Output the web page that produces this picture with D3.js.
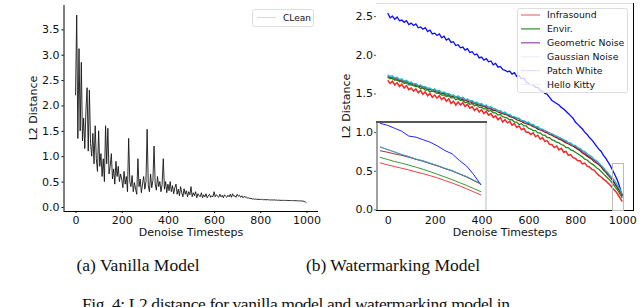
<!DOCTYPE html>
<html>
<head>
<meta charset="utf-8">
<script src="https://cdn.jsdelivr.net/npm/d3@7"></script>
<style>
  body { margin: 0; background: #fff; }
  text { font-family: "DejaVu Sans", sans-serif; fill: #111; }
  .cap { font-family: "Liberation Serif", "Times New Roman", serif; }
</style>
</head>
<body>
<div id="chart"></div>
<script>
// timesteps are just the sample positions read along the x axis
const cleanSteps = d3.range(0, 1001, 5)
const wmSteps = d3.range(0, 1001, 10)
const insetSteps = d3.range(958, 1001, 3)

const xTicks = [0, 200, 400, 600, 800, 1000]
const leftYTicks = [0, 0.5, 1, 1.5, 2, 2.5, 3, 3.5]
const rightYTicks = [0, 0.5, 1, 1.5, 2, 2.5]

// vanilla model, "CLean" series (read every 5 steps)
const cleanVals = [
  2.2, 3.78, 1.35, 3.12, 1.5, 2.85, 1.3, 1.75, 1.15, 1.9, 2.35, 1.1, 2.3, 1.25, 1.0, 1.45, 0.85, 1.6, 0.95, 0.7,
  1.5, 0.8, 1.05, 0.6, 0.95, 0.5, 1.6, 0.85, 1.55, 0.65, 0.8, 1.05, 0.55, 0.75, 0.45, 0.9, 0.6, 0.8, 0.5, 0.65,
  0.55, 0.38, 0.7, 0.45, 0.6, 0.3, 1.35, 0.5, 0.4, 0.62, 0.3, 0.48, 0.35, 0.25, 0.95, 0.4, 0.55, 0.28, 0.45, 0.6,
  0.35, 0.5, 1.53, 0.42, 0.3, 0.65, 0.38, 0.52, 1.2, 0.45, 0.33, 0.6, 0.4, 0.5, 0.3, 0.45, 0.95, 0.35, 0.5, 0.28,
  0.45, 0.32, 0.5, 0.3, 0.42, 0.26, 0.38, 0.45, 0.25, 0.35, 0.22, 0.4, 0.28, 0.2, 0.36, 0.25, 0.32, 0.2, 0.3, 0.24,
  0.4, 0.2, 0.28, 0.22, 0.3, 0.18, 0.26, 0.22, 0.2, 0.28, 0.18, 0.24, 0.2, 0.26, 0.18, 0.22, 0.25, 0.19, 0.22, 0.2,
  0.3, 0.2, 0.24, 0.21, 0.19, 0.25, 0.2, 0.23, 0.18, 0.24, 0.21, 0.19, 0.23, 0.2, 0.25, 0.19, 0.26, 0.21, 0.22, 0.19,
  0.25, 0.21, 0.23, 0.19, 0.22, 0.18, 0.21, 0.19, 0.2, 0.17, 0.18, 0.165, 0.17, 0.155, 0.16, 0.15, 0.155, 0.15, 0.152, 0.145,
  0.15, 0.145, 0.15, 0.14, 0.145, 0.14, 0.145, 0.14, 0.14, 0.135, 0.14, 0.135, 0.14, 0.135, 0.135, 0.13, 0.135, 0.13, 0.13, 0.13,
  0.13, 0.128, 0.13, 0.127, 0.128, 0.125, 0.126, 0.125, 0.125, 0.123, 0.124, 0.122, 0.122, 0.12, 0.12, 0.118, 0.118, 0.115, 0.11, 0.1,
  0.08
]

// watermarking model series (read every 10 steps)
const infrasound = [
  1.67, 1.63, 1.66, 1.61, 1.64, 1.59, 1.62, 1.57, 1.60, 1.55, 1.57,
  1.53, 1.56, 1.51, 1.54, 1.49, 1.52, 1.47, 1.50, 1.45, 1.48,
  1.44, 1.47, 1.42, 1.45, 1.40, 1.43, 1.37, 1.40, 1.35, 1.39,
  1.35, 1.38, 1.33, 1.36, 1.31, 1.33, 1.28, 1.31, 1.26, 1.29,
  1.24, 1.27, 1.22, 1.24, 1.19, 1.21, 1.16, 1.19, 1.13, 1.16,
  1.12, 1.14, 1.09, 1.11, 1.06, 1.08, 1.03, 1.05, 1.00, 1.00,
  0.97, 0.99, 0.94, 0.96, 0.91, 0.93, 0.88, 0.89, 0.84, 0.84,
  0.80, 0.82, 0.77, 0.79, 0.74, 0.75, 0.70, 0.71, 0.67, 0.66,
  0.63, 0.63, 0.59, 0.60, 0.56, 0.55, 0.52, 0.51, 0.47, 0.44,
  0.42, 0.39, 0.37, 0.34, 0.31, 0.27, 0.24, 0.20, 0.15, 0.10
]
const envir = [
  1.71, 1.69, 1.70, 1.67, 1.68, 1.65, 1.66, 1.63, 1.64, 1.61, 1.61,
  1.60, 1.59, 1.59, 1.56, 1.57, 1.54, 1.55, 1.52, 1.53, 1.52,
  1.50, 1.50, 1.48, 1.48, 1.46, 1.47, 1.44, 1.45, 1.42, 1.43,
  1.41, 1.41, 1.38, 1.39, 1.36, 1.37, 1.34, 1.35, 1.32, 1.32,
  1.30, 1.30, 1.27, 1.28, 1.25, 1.25, 1.22, 1.23, 1.20, 1.19,
  1.18, 1.16, 1.16, 1.13, 1.13, 1.10, 1.11, 1.08, 1.08, 1.05,
  1.04, 1.02, 1.02, 0.99, 0.99, 0.96, 0.96, 0.93, 0.93, 0.90,
  0.89, 0.87, 0.86, 0.84, 0.83, 0.80, 0.80, 0.77, 0.76, 0.74,
  0.72, 0.70, 0.68, 0.65, 0.64, 0.61, 0.59, 0.57, 0.54, 0.52,
  0.49, 0.46, 0.43, 0.40, 0.37, 0.33, 0.29, 0.25, 0.20, 0.15
]
const geometric = [
  1.73, 1.71, 1.71, 1.70, 1.69, 1.68, 1.67, 1.66, 1.66, 1.64, 1.64,
  1.62, 1.62, 1.60, 1.60, 1.59, 1.58, 1.57, 1.56, 1.55, 1.55,
  1.53, 1.53, 1.51, 1.51, 1.50, 1.49, 1.48, 1.47, 1.46, 1.46,
  1.44, 1.44, 1.42, 1.42, 1.40, 1.40, 1.38, 1.38, 1.36, 1.36,
  1.34, 1.33, 1.32, 1.31, 1.30, 1.29, 1.28, 1.27, 1.25, 1.25,
  1.23, 1.22, 1.20, 1.19, 1.18, 1.17, 1.15, 1.14, 1.13, 1.11,
  1.10, 1.09, 1.07, 1.06, 1.04, 1.03, 1.02, 1.00, 0.99, 0.97,
  0.96, 0.94, 0.93, 0.91, 0.89, 0.88, 0.86, 0.85, 0.83, 0.81,
  0.79, 0.77, 0.75, 0.73, 0.70, 0.68, 0.66, 0.64, 0.61, 0.59,
  0.56, 0.52, 0.49, 0.46, 0.42, 0.38, 0.33, 0.29, 0.24, 0.19
]
const gaussian = [
  1.74, 1.72, 1.73, 1.70, 1.71, 1.68, 1.69, 1.66, 1.67, 1.64, 1.65,
  1.62, 1.63, 1.60, 1.61, 1.58, 1.59, 1.56, 1.57, 1.54, 1.56,
  1.53, 1.54, 1.51, 1.52, 1.49, 1.50, 1.47, 1.48, 1.45, 1.47,
  1.44, 1.45, 1.42, 1.43, 1.40, 1.41, 1.38, 1.39, 1.36, 1.37,
  1.34, 1.35, 1.32, 1.33, 1.30, 1.30, 1.27, 1.28, 1.25, 1.26,
  1.23, 1.23, 1.20, 1.20, 1.18, 1.18, 1.15, 1.15, 1.12, 1.13,
  1.10, 1.10, 1.07, 1.07, 1.04, 1.04, 1.01, 1.01, 0.98, 0.98,
  0.96, 0.95, 0.93, 0.92, 0.90, 0.89, 0.86, 0.86, 0.83, 0.83,
  0.80, 0.79, 0.76, 0.75, 0.72, 0.70, 0.68, 0.65, 0.63, 0.60,
  0.57, 0.54, 0.50, 0.47, 0.43, 0.40, 0.36, 0.31, 0.26, 0.20
]
const patchWhite = [
  2.54, 2.48, 2.50, 2.46, 2.49, 2.44, 2.45, 2.42, 2.44, 2.39, 2.41,
  2.38, 2.40, 2.35, 2.36, 2.33, 2.35, 2.30, 2.32, 2.27, 2.28,
  2.25, 2.27, 2.22, 2.24, 2.19, 2.21, 2.16, 2.17, 2.12, 2.13,
  2.09, 2.10, 2.06, 2.08, 2.03, 2.04, 2.00, 2.01, 1.96, 1.97,
  1.93, 1.95, 1.91, 1.92, 1.87, 1.89, 1.84, 1.85, 1.81, 1.80,
  1.78, 1.79, 1.75, 1.77, 1.72, 1.73, 1.69, 1.70, 1.65, 1.63,
  1.61, 1.61, 1.58, 1.58, 1.54, 1.53, 1.50, 1.49, 1.45, 1.41,
  1.39, 1.37, 1.35, 1.32, 1.30, 1.27, 1.24, 1.21, 1.18, 1.13,
  1.10, 1.07, 1.04, 1.00, 0.97, 0.93, 0.90, 0.86, 0.82, 0.78,
  0.75, 0.70, 0.66, 0.61, 0.56, 0.50, 0.44, 0.37, 0.28, 0.17
]
const helloKitty = [
  1.71, 1.70, 1.69, 1.69, 1.67, 1.67, 1.65, 1.65, 1.64, 1.63, 1.62,
  1.61, 1.60, 1.59, 1.59, 1.57, 1.57, 1.55, 1.55, 1.54, 1.53,
  1.52, 1.51, 1.50, 1.50, 1.48, 1.48, 1.46, 1.46, 1.45, 1.44,
  1.43, 1.42, 1.41, 1.40, 1.39, 1.38, 1.37, 1.36, 1.35, 1.34,
  1.33, 1.32, 1.30, 1.30, 1.28, 1.28, 1.26, 1.25, 1.24, 1.23,
  1.22, 1.20, 1.19, 1.18, 1.16, 1.15, 1.14, 1.12, 1.11, 1.10,
  1.09, 1.07, 1.06, 1.04, 1.03, 1.02, 1.00, 0.99, 0.97, 0.96,
  0.94, 0.93, 0.91, 0.90, 0.88, 0.86, 0.85, 0.83, 0.82, 0.80,
  0.78, 0.76, 0.73, 0.71, 0.69, 0.67, 0.65, 0.62, 0.60, 0.58,
  0.55, 0.51, 0.48, 0.44, 0.41, 0.37, 0.32, 0.28, 0.23, 0.18
]

// zoomed inset (last steps)
const insetInfrasound = [0.336, 0.322, 0.31, 0.298, 0.286, 0.272, 0.26, 0.245, 0.23, 0.212, 0.195, 0.175, 0.155, 0.133, 0.111]
const insetEnvir = [0.374, 0.36, 0.345, 0.333, 0.32, 0.305, 0.29, 0.273, 0.255, 0.237, 0.218, 0.198, 0.178, 0.156, 0.134]
const insetGeometric = [0.448, 0.428, 0.413, 0.392, 0.38, 0.36, 0.35, 0.33, 0.317, 0.295, 0.282, 0.258, 0.24, 0.212, 0.19]
const insetGaussian = [0.444, 0.43, 0.41, 0.395, 0.378, 0.362, 0.348, 0.333, 0.315, 0.298, 0.28, 0.26, 0.239, 0.215, 0.188]
const insetPatch = [0.611, 0.598, 0.577, 0.556, 0.522, 0.514, 0.496, 0.478, 0.452, 0.421, 0.398, 0.352, 0.313, 0.252, 0.181]
const insetKitty = [0.42, 0.41, 0.398, 0.388, 0.374, 0.36, 0.345, 0.33, 0.313, 0.296, 0.278, 0.258, 0.236, 0.212, 0.185]

const wmNames = ["Infrasound", "Envir.", "Geometric Noise", "Gaussian Noise", "Patch White", "Hello Kitty"]
const wmColors = ["#f02a2a", "#1e8c1e", "#a838c0", "#22b8c4", "#0a0aff", "#8b1f1f"]
const legendColors = ["#f07a7a", "#3c9a3c", "#a850b8", "#eef0fa", "#e0e2f8", "#eeeeee"]

const wmSeries = [infrasound, envir, geometric, gaussian, patchWhite, helloKitty]
const insetSeries = [insetInfrasound, insetEnvir, insetGeometric, insetGaussian, insetPatch, insetKitty]
// draw order: purple behind cyan, red on top like the picture
const drawOrder = [4, 2, 5, 3, 1, 0]

let svg = d3.select("#chart")
            .append("svg")
            .attr("width", 640)
            .attr("height", 307)

// ---------- (a) vanilla model ----------
let lx = d3.scaleLinear().domain([-50, 1050]).range([64, 318])
let ly = d3.scaleLinear().domain([-0.08, 3.98]).range([211, 5])

let left = svg.append("g")

left.append("g")
    .attr("transform", "translate(0,211)")
    .call(d3.axisBottom(lx).tickValues(xTicks).tickSize(2).tickPadding(3).tickFormat(d3.format("d")))
    .call(g => g.select(".domain").attr("stroke", "#000").attr("d", "M63.5,0.5H318"))
    .call(g => g.selectAll("text").attr("font-size", 11).attr("font-family", "DejaVu Sans").attr("fill", "#111"))

left.append("g")
    .attr("transform", "translate(63.5,0)")
    .call(d3.axisLeft(ly).tickValues(leftYTicks).tickSize(2).tickPadding(2).tickFormat(d3.format(".1f")))
    .call(g => g.select(".domain").attr("stroke", "#000").attr("d", "M0.5,5V211"))
    .call(g => g.selectAll("text").attr("font-size", 11).attr("font-family", "DejaVu Sans").attr("fill", "#111"))

left.append("path")
    .datum(cleanVals)
    .attr("fill", "none")
    .attr("stroke", "#151515")
    .attr("stroke-width", 0.9)
    .attr("d", d3.line().x((d, i) => lx(cleanSteps[i])).y(d => ly(d)))

left.append("text")
    .attr("x", 191).attr("y", 236)
    .attr("text-anchor", "middle").attr("font-size", 11)
    .text("Denoise Timesteps")

left.append("text")
    .attr("transform", "translate(37,108)rotate(-90)")
    .attr("text-anchor", "middle").attr("font-size", 11)
    .text("L2 Distance")

// legend
left.append("rect")
    .attr("x", 252.5).attr("y", 9.5).attr("width", 61).attr("height", 17)
    .attr("rx", 2).attr("fill", "#fff").attr("stroke", "#ddd")
left.append("line")
    .attr("x1", 257).attr("x2", 276).attr("y1", 17.5).attr("y2", 17.5)
    .attr("stroke", "#d8d8d8").attr("stroke-width", 1)
left.append("text")
    .attr("x", 283).attr("y", 21).attr("font-size", 9)
    .text("CLean")

// ---------- (b) watermarking model ----------
let rx = d3.scaleLinear().domain([-50, 1050]).range([376, 634])
let ry = d3.scaleLinear().domain([-0.02, 2.67]).range([211, 3])

let right = svg.append("g")

// light top spine, dark right and bottom
right.append("line")
     .attr("x1", 376).attr("x2", 634).attr("y1", 3.5).attr("y2", 3.5)
     .attr("stroke", "#ddd")

right.append("g")
     .attr("transform", "translate(0,210.5)")
     .call(d3.axisBottom(rx).tickValues(xTicks).tickSize(0).tickPadding(6).tickFormat(d3.format("d")))
     .call(g => g.select(".domain").attr("stroke", "#000").attr("d", "M376,0H634"))
     .call(g => g.selectAll("text").attr("font-size", 11).attr("font-family", "DejaVu Sans").attr("fill", "#111"))

right.append("g")
     .attr("transform", "translate(376,0)")
     .call(d3.axisLeft(ry).tickValues(rightYTicks).tickSize(2).tickPadding(1).tickFormat(d3.format(".1f")))
     .call(g => g.select(".domain").remove())
     .call(g => g.selectAll("text").attr("font-size", 11).attr("font-family", "DejaVu Sans").attr("fill", "#111"))
     .call(g => g.selectAll("line").attr("stroke", "#555"))

right.append("line")
     .attr("x1", 633.5).attr("x2", 633.5).attr("y1", 3).attr("y2", 211)
     .attr("stroke", "#000")

let wmLine = d3.line().x((d, i) => rx(wmSteps[i])).y(d => ry(d))

drawOrder.forEach(function(k) {
    right.append("path")
         .datum(wmSeries[k])
         .attr("fill", "none")
         .attr("stroke", wmColors[k])
         .attr("stroke-width", k == 0 ? 1.5 : 1.3)
         .attr("d", wmLine)
})

// zoom marker rectangle
right.append("rect")
     .attr("x", 612.5).attr("y", 163.5).attr("width", 11).attr("height", 47)
     .attr("fill", "none").attr("stroke", "#bbb")

// inset
let ix = d3.scaleLinear().domain([957, 1001]).range([377.5, 483.5])
let iy = d3.scaleLinear().domain([0, 0.62]).range([211, 122])

let inset = right.append("g")
inset.append("rect")
     .attr("x", 377).attr("y", 122).attr("width", 109).attr("height", 88)
     .attr("fill", "#fff")
inset.append("line")
     .attr("x1", 486).attr("x2", 486).attr("y1", 122).attr("y2", 210)
     .attr("stroke", "#bbb")
inset.append("line")
     .attr("x1", 377).attr("x2", 377).attr("y1", 122).attr("y2", 210)
     .attr("stroke", "#444")
inset.append("line")
     .attr("x1", 376).attr("x2", 487).attr("y1", 122).attr("y2", 122)
     .attr("stroke", "#555").attr("stroke-width", 2)

let insetLine = d3.line().x((d, i) => ix(insetSteps[i])).y(d => iy(d))
drawOrder.forEach(function(k) {
    inset.append("path")
         .datum(insetSeries[k])
         .attr("fill", "none")
         .attr("stroke", wmColors[k])
         .attr("stroke-width", 0.9)
         .attr("d", insetLine)
})

right.append("text")
     .attr("x", 505).attr("y", 236)
     .attr("text-anchor", "middle").attr("font-size", 11)
     .text("Denoise Timesteps")

right.append("text")
     .attr("transform", "translate(350,106)rotate(-90)")
     .attr("text-anchor", "middle").attr("font-size", 11)
     .text("L2 Distance")

// legend, semi-transparent like matplotlib
let lg = right.append("g")
lg.append("rect")
  .attr("x", 517.5).attr("y", 8.5).attr("width", 110).attr("height", 84)
  .attr("rx", 2).attr("fill", "#fff").attr("fill-opacity", 0.8).attr("stroke", "#ddd")

wmNames.forEach(function(name, i) {
    let yy = 15 + i * 13.9
    lg.append("line")
      .attr("x1", 521).attr("x2", 540).attr("y1", yy).attr("y2", yy)
      .attr("stroke", legendColors[i]).attr("stroke-width", 1.3)
    lg.append("text")
      .attr("x", 547).attr("y", yy + 3.3).attr("font-size", 9.3)
      .text(name)
})

// ---------- captions ----------
svg.append("text").attr("class", "cap")
   .attr("x", 138).attr("y", 271).attr("text-anchor", "middle").attr("font-size", 17.5)
   .text("(a) Vanilla Model")
svg.append("text").attr("class", "cap")
   .attr("x", 393).attr("y", 271).attr("text-anchor", "middle").attr("font-size", 17.5)
   .text("(b) Watermarking Model")
svg.append("text").attr("class", "cap")
   .attr("x", 82).attr("y", 310).attr("font-size", 17.5)
   .attr("textLength", 428).attr("lengthAdjust", "spacing")
   .text("Fig. 4: L2 distance for vanilla model and watermarking model in")
</script>
</body>
</html>
